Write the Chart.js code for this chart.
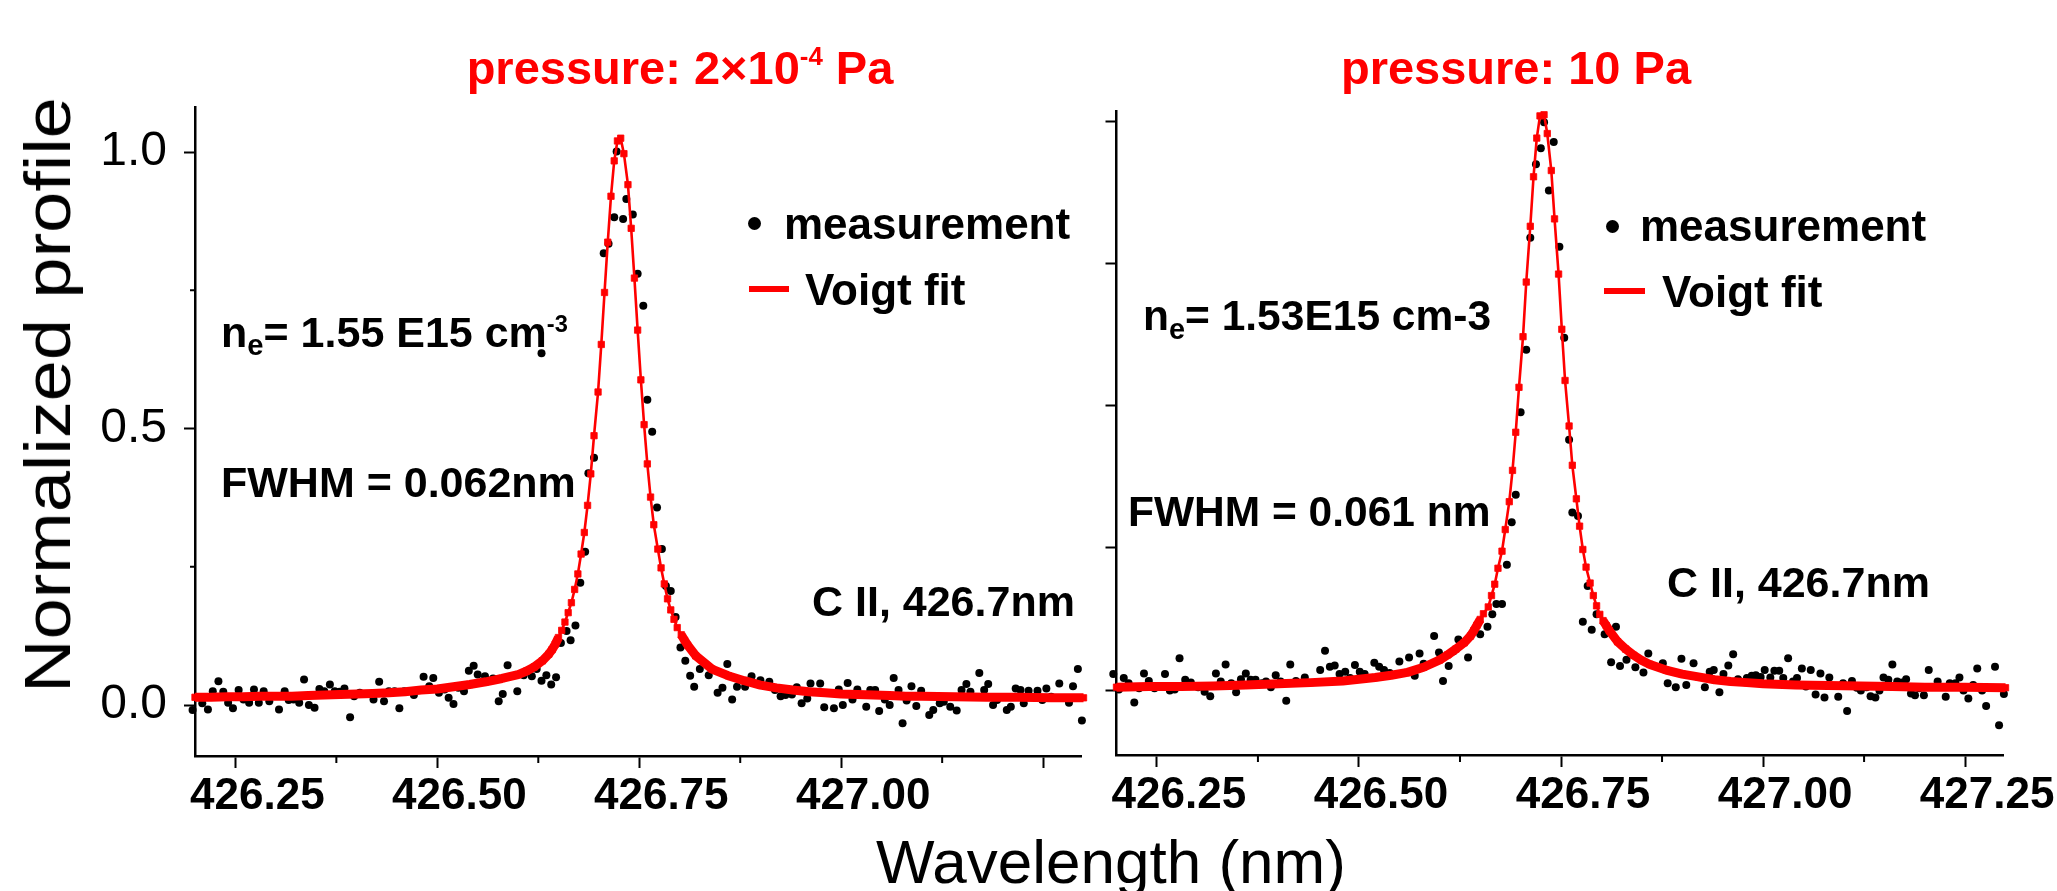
<!DOCTYPE html>
<html>
<head>
<meta charset="utf-8">
<script src="https://cdn.jsdelivr.net/npm/chart.js@4.4.1/dist/chart.umd.min.js"></script>
<style>
html, body { margin: 0; padding: 0; background: #fff; }
#wrap { position: relative; width: 2057px; height: 891px; overflow: hidden; font-family: "Liberation Sans", Arial, sans-serif; }
canvas { position: absolute; left: 0; top: 0; }
.note { position: absolute; white-space: nowrap; line-height: 1; }
.sp { font-size: 0.55em; position: relative; top: -0.62em; }
.sb { font-size: 0.68em; position: relative; top: 0.3em; }
.mark { position: absolute; }
</style>
</head>
<body>
<div id="wrap">
  <canvas id="left" width="2057" height="891"></canvas>
  <canvas id="right" width="2057" height="891"></canvas>
</div>
<script>
// wavelength (nm), normalized intensity
const measLeft = [
  [426.197,-0.009],[426.209,0.003],[426.216,-0.008],[426.222,0.025],[426.229,0.043],[426.235,0.024],
  [426.241,0.004],[426.247,-0.006],[426.254,0.027],[426.260,0.010],[426.267,0.004],[426.273,0.028],
  [426.279,0.004],[426.285,0.025],[426.292,0.007],[426.304,-0.008],[426.311,0.025],[426.316,0.009],
  [426.322,0.010],[426.329,0.004],[426.335,0.046],[426.341,0.000],[426.348,-0.005],[426.354,0.029],
  [426.360,0.025],[426.367,0.037],[426.373,0.025],[426.379,0.024],[426.385,0.030],[426.392,-0.022],
  [426.397,0.016],[426.404,0.022],[426.421,0.010],[426.428,0.042],[426.434,0.007],[426.440,0.025],
  [426.447,0.025],[426.453,-0.006],[426.459,0.025],[426.471,0.018],[426.483,0.051],[426.490,0.034],
  [426.495,0.049],[426.502,0.022],[426.509,0.028],[426.514,0.013],[426.520,0.002],[426.526,0.031],
  [426.533,0.025],[426.539,0.062],[426.545,0.071],[426.550,0.055],[426.559,0.052],[426.569,0.048],
  [426.576,0.007],[426.581,0.020],[426.587,0.072],[426.599,0.025],[426.607,0.054],[426.617,0.052],
  [426.623,0.065],[426.629,0.044],[426.629,0.636],[426.635,0.054],[426.641,0.037],[426.647,0.050],
  [426.653,0.112],[426.660,0.134],[426.665,0.117],[426.671,0.144],[426.677,0.221],[426.683,0.277],
  [426.687,0.419],[426.694,0.447],[426.706,0.817],[426.712,0.834],[426.719,0.882],[426.722,1.001],
  [426.730,0.879],[426.734,0.915],[426.742,0.887],[426.748,0.780],[426.755,0.722],[426.760,0.552],
  [426.766,0.494],[426.772,0.357],[426.778,0.282],[426.783,0.215],[426.789,0.206],[426.795,0.159],
  [426.801,0.104],[426.807,0.080],[426.813,0.053],[426.818,0.033],[426.825,0.065],[426.836,0.054],
  [426.847,0.022],[426.853,0.031],[426.859,0.074],[426.865,0.010],[426.871,0.033],[426.881,0.033],
  [426.889,0.052],[426.900,0.045],[426.911,0.042],[426.918,0.027],[426.925,0.016],[426.931,0.018],
  [426.939,0.019],[426.945,0.032],[426.951,0.003],[426.958,0.012],[426.962,0.039],[426.974,0.039],
  [426.979,-0.004],[426.991,-0.006],[426.997,0.028],[427.002,0.000],[427.008,0.040],[427.014,0.010],
  [427.020,0.028],[427.031,-0.003],[427.036,0.027],[427.042,0.027],[427.047,-0.011],[427.054,0.010],
  [427.060,0.000],[427.065,0.049],[427.071,0.027],[427.076,-0.033],[427.081,0.008],[427.087,0.034],
  [427.093,-0.002],[427.099,0.026],[427.109,-0.018],[427.114,-0.009],[427.122,0.003],[427.127,0.006],
  [427.135,-0.003],[427.143,-0.010],[427.149,0.027],[427.155,0.038],[427.160,0.024],[427.171,0.058],
  [427.177,0.027],[427.182,0.038],[427.188,0.000],[427.193,0.009],[427.205,-0.009],[427.210,-0.003],
  [427.216,0.030],[427.222,0.027],[427.226,0.003],[427.232,0.026],[427.243,0.026],[427.249,0.009],
  [427.254,0.030],[427.260,0.015],[427.270,0.039],[427.282,0.004],[427.287,0.034],[427.293,0.065],
  [427.298,-0.028],[427.303,0.040]
];

const fitLeft = [
  [426.20,0.014],[426.22,0.014],[426.24,0.015],[426.26,0.015],[426.28,0.016],[426.30,0.016],
  [426.32,0.016],[426.34,0.017],[426.36,0.018],[426.38,0.019],[426.40,0.020],[426.42,0.021],
  [426.44,0.022],[426.46,0.024],[426.48,0.027],[426.50,0.029],[426.52,0.033],[426.54,0.037],
  [426.56,0.042],[426.58,0.048],[426.60,0.055],[426.61,0.061],[426.62,0.069],[426.63,0.080],
  [426.638,0.092],[426.642,0.100],[426.646,0.110],[426.650,0.122],[426.654,0.135],[426.658,0.150],
  [426.662,0.167],[426.666,0.185],[426.670,0.209],[426.674,0.237],[426.678,0.273],[426.682,0.312],
  [426.686,0.361],[426.690,0.418],[426.694,0.487],[426.699,0.566],[426.703,0.652],[426.707,0.746],
  [426.711,0.837],[426.715,0.920],[426.719,0.984],[426.723,1.020],[426.727,1.025],[426.731,0.997],
  [426.736,0.941],[426.740,0.862],[426.744,0.772],[426.748,0.678],[426.752,0.588],[426.756,0.507],
  [426.760,0.436],[426.764,0.376],[426.768,0.326],[426.773,0.282],[426.777,0.248],[426.781,0.219],
  [426.785,0.192],[426.789,0.172],[426.793,0.155],[426.797,0.140],[426.802,0.127],[426.806,0.117],
  [426.810,0.108],[426.82,0.089],[426.84,0.065],[426.86,0.053],[426.88,0.044],[426.90,0.036],
  [426.92,0.031],[426.94,0.027],[426.96,0.024],[426.98,0.022],[427.00,0.020],[427.02,0.019],
  [427.04,0.018],[427.06,0.017],[427.08,0.016],[427.10,0.016],[427.14,0.015],[427.18,0.014],
  [427.22,0.014],[427.26,0.013],[427.30,0.013]
];

const measRight = [
  [426.196,0.028],[426.203,0.001],[426.209,0.021],[426.215,0.012],[426.222,-0.022],[426.228,0.003],
  [426.234,0.029],[426.240,0.016],[426.247,0.003],[426.260,0.028],[426.266,-0.001],[426.272,0.001],
  [426.278,0.056],[426.285,0.018],[426.292,0.013],[426.301,0.005],[426.309,-0.003],[426.316,-0.011],
  [426.323,0.029],[426.329,0.015],[426.335,0.045],[426.342,0.012],[426.348,-0.004],[426.354,0.019],
  [426.360,0.029],[426.366,0.018],[426.372,0.018],[426.380,0.012],[426.385,0.015],[426.391,0.005],
  [426.397,0.026],[426.403,0.015],[426.410,-0.019],[426.415,0.045],[426.422,0.016],[426.433,0.022],
  [426.452,0.035],[426.458,0.069],[426.464,0.041],[426.470,0.043],[426.476,0.028],[426.483,0.032],
  [426.489,0.021],[426.495,0.044],[426.501,0.032],[426.507,0.028],[426.519,0.048],[426.525,0.041],
  [426.531,0.035],[426.538,0.030],[426.550,0.050],[426.562,0.057],[426.569,0.025],[426.575,0.064],
  [426.580,0.046],[426.593,0.095],[426.599,0.066],[426.604,0.016],[426.611,0.042],[426.617,0.068],
  [426.623,0.089],[426.635,0.057],[426.650,0.098],[426.659,0.111],[426.665,0.133],[426.670,0.151],
  [426.677,0.151],[426.683,0.220],[426.689,0.295],[426.694,0.343],[426.700,0.488],[426.707,0.598],
  [426.712,0.795],[426.719,0.924],[426.725,0.952],[426.729,0.998],[426.735,0.878],[426.741,0.963],
  [426.748,0.779],[426.754,0.619],[426.760,0.440],[426.764,0.312],[426.771,0.306],[426.777,0.120],
  [426.783,0.183],[426.788,0.106],[426.794,0.133],[426.804,0.098],[426.812,0.049],[426.818,0.111],
  [426.823,0.042],[426.831,0.053],[426.842,0.040],[426.852,0.031],[426.858,0.064],[426.876,0.047],
  [426.882,0.012],[426.892,0.005],[426.899,0.055],[426.905,0.009],[426.914,0.047],[426.928,0.005],
  [426.934,0.032],[426.939,0.035],[426.946,-0.004],[426.951,0.028],[426.957,0.043],[426.963,0.063],
  [426.969,0.019],[426.980,0.021],[426.986,0.025],[426.991,0.026],[426.997,0.023],[427.002,0.035],
  [427.009,0.022],[427.014,0.034],[427.020,0.034],[427.025,0.021],[427.031,0.056],[427.037,0.015],
  [427.042,0.021],[427.048,0.038],[427.053,0.006],[427.059,0.035],[427.065,-0.008],[427.071,0.029],
  [427.076,-0.013],[427.082,0.022],[427.093,-0.012],[427.099,0.012],[427.104,-0.037],[427.110,0.016],
  [427.116,0.004],[427.121,-0.001],[427.128,0.005],[427.133,-0.011],[427.139,-0.013],[427.144,-0.001],
  [427.149,0.022],[427.155,0.018],[427.160,0.045],[427.166,0.015],[427.172,0.013],[427.177,0.019],
  [427.183,-0.006],[427.188,-0.009],[427.193,0.003],[427.199,-0.009],[427.205,0.035],[427.216,0.015],
  [427.226,-0.012],[427.231,0.012],[427.238,0.012],[427.243,0.022],[427.248,-0.001],[427.254,-0.015],
  [427.260,0.009],[427.265,0.038],[427.271,-0.001],[427.276,-0.028],[427.287,0.041],[427.292,-0.062],
  [427.298,-0.007],[427.304,0.001]
];

const fitRight = [
  [426.20,0.005],[426.24,0.006],[426.28,0.006],[426.32,0.007],[426.36,0.009],[426.40,0.011],
  [426.44,0.013],[426.48,0.016],[426.50,0.019],[426.52,0.022],[426.54,0.026],[426.56,0.031],
  [426.58,0.040],[426.60,0.053],[426.61,0.062],[426.62,0.072],[426.63,0.083],[426.638,0.095],
  [426.642,0.104],[426.646,0.114],[426.650,0.124],[426.654,0.134],[426.660,0.146],[426.664,0.166],
  [426.668,0.186],[426.672,0.214],[426.677,0.244],[426.681,0.282],[426.686,0.331],[426.690,0.386],
  [426.694,0.453],[426.698,0.532],[426.703,0.621],[426.707,0.717],[426.712,0.815],[426.716,0.902],
  [426.720,0.970],[426.724,1.009],[426.729,1.011],[426.733,0.978],[426.738,0.913],[426.742,0.828],
  [426.747,0.731],[426.751,0.634],[426.755,0.544],[426.760,0.464],[426.764,0.395],[426.769,0.336],
  [426.773,0.288],[426.777,0.247],[426.781,0.216],[426.786,0.188],[426.790,0.166],[426.794,0.148],
  [426.798,0.133],[426.802,0.122],[426.806,0.113],[426.810,0.104],[426.82,0.085],[426.83,0.072],
  [426.84,0.061],[426.85,0.052],[426.86,0.045],[426.88,0.035],[426.90,0.028],[426.92,0.023],
  [426.94,0.018],[426.96,0.015],[426.98,0.013],[427.00,0.011],[427.04,0.009],[427.08,0.008],
  [427.12,0.007],[427.16,0.006],[427.20,0.005],[427.25,0.005],[427.30,0.004]
];

// axis ticks
const xTicks = [426.25, 426.50, 426.75, 427.00, 427.25];
const xLabelsLeft = ['426.25', '426.50', '426.75', '427.00', ''];
const xLabelsRight = ['426.25', '426.50', '426.75', '427.00', '427.25'];
const xMinor = [426.375, 426.625, 426.875, 427.125];
const yTicksLeft = [0, 0.5, 1.0];
const yLabelsLeft = ['0.0', '0.5', '1.0'];
const yMinorLeft = [0.25, 0.75];
const yTicksRight = [0, 0.25, 0.5, 0.75, 1.0];

// short ticks between the labelled ones
const minorTicks = {
  id: 'minorTicks',
  afterDraw(chart, args, opts) {
    const ctx = chart.ctx;
    const xs = chart.scales.x, ys = chart.scales.y;
    ctx.save();
    ctx.strokeStyle = '#000';
    ctx.lineWidth = 2;
    ctx.beginPath();
    (opts.x || []).forEach(v => {
      const px = xs.getPixelForValue(v);
      ctx.moveTo(px, xs.top);
      ctx.lineTo(px, xs.top + 7);
    });
    (opts.y || []).forEach(v => {
      const py = ys.getPixelForValue(v);
      ctx.moveTo(ys.right, py);
      ctx.lineTo(ys.right - 5, py);
    });
    ctx.stroke();
    ctx.restore();
  }
};

function makePanel(id, meas, fit, cfg) {
  return new Chart(document.getElementById(id), {
    type: 'scatter',
    data: {
      datasets: [{
        label: 'Voigt fit',
        data: fit.map(p => ({ x: p[0], y: p[1] })),
        showLine: true,
        borderColor: '#ff0000',
        backgroundColor: '#ff0000',
        borderWidth: 2.6,
        borderJoinStyle: 'round',
        segment: {
          borderWidth: c => (Math.max(c.p0.parsed.y, c.p1.parsed.y) < 0.13 ? 9 : 2.6)
        },
        pointStyle: 'rect',
        pointRadius: 4.5,
        pointBorderWidth: 0.8,
        pointBorderColor: '#ff0000',
        pointBackgroundColor: '#ff0000',
        clip: false,
        order: 0
      }, {
        label: 'measurement',
        data: meas.map(p => ({ x: p[0], y: p[1] })),
        showLine: false,
        pointRadius: 4,
        pointBorderWidth: 0,
        pointBackgroundColor: '#000',
        clip: false,
        order: 1
      }]
    },
    options: {
      responsive: false,
      animation: false,
      devicePixelRatio: 1,
      layout: { padding: { left: 0, top: cfg.top, right: cfg.right, bottom: 0 } },
      plugins: {
        legend: { display: false },
        tooltip: { enabled: false },
        minorTicks: { x: xMinor, y: cfg.yMinor }
      },
      scales: {
        x: {
          type: 'linear',
          min: 426.2,
          max: 427.2975,
          afterFit: s => { s.height = cfg.xh; s.paddingLeft = 0; s.paddingRight = 0; },
          afterBuildTicks: s => { s.ticks = xTicks.map(v => ({ value: v })); },
          grid: { drawOnChartArea: false, drawTicks: true, tickLength: 12, tickWidth: 2, tickColor: '#000' },
          border: { display: true, color: '#000', width: 2.5 },
          ticks: {
            color: '#000',
            padding: 2,
            labelOffset: 22,
            font: { family: 'Liberation Sans', size: 44, weight: 'bold' },
            callback: (v, i) => cfg.xLabels[i]
          }
        },
        y: {
          type: 'linear',
          min: cfg.ymin,
          max: cfg.ymax,
          afterFit: s => { s.width = cfg.yw; s.paddingTop = 0; s.paddingBottom = 0; },
          afterBuildTicks: s => { s.ticks = cfg.yTicks.map(v => ({ value: v })); },
          grid: { drawOnChartArea: false, drawTicks: true, tickLength: 11, tickWidth: 2, tickColor: '#000' },
          border: { display: true, color: '#000', width: 2.5 },
          ticks: {
            color: '#000',
            padding: 17,
            font: { family: 'Liberation Sans', size: 48 },
            callback: (v, i) => cfg.yLabels[i]
          }
        }
      }
    },
    plugins: [minorTicks]
  });
}

makePanel('left', measLeft, fitLeft, {
  top: 107, right: 2057 - 1081.5, xh: 891 - 756, yw: 195,
  ymin: -0.0922, ymax: 1.0814,
  xLabels: xLabelsLeft, yTicks: yTicksLeft, yLabels: yLabelsLeft, yMinor: yMinorLeft
});

makePanel('right', measRight, fitRight, {
  top: 111, right: 2057 - 2003.5, xh: 891 - 755, yw: 1116.5,
  ymin: -0.1142, ymax: 1.0176,
  xLabels: xLabelsRight, yTicks: yTicksRight, yLabels: yTicksRight.map(() => ''), yMinor: []
});

// text placed by baseline (Liberation Sans: baseline sits 0.8465em below the top of a line-height:1 box)
const notes = [
  { h: 'pressure: 2&times;10<span class="sp" style="top:-0.75em">-4</span> Pa', cx: 680, base: 84, size: 47, color: '#ff0000' },
  { h: 'n<span class="sb">e</span>= 1.55 E15 cm<span class="sp">-3</span>', x: 221, base: 347, size: 43 },
  { h: 'FWHM = 0.062nm', x: 221, base: 497, size: 43 },
  { h: 'C II, 426.7nm', x: 812, base: 616, size: 43 },
  { h: 'measurement', x: 784, base: 239, size: 44 },
  { h: 'Voigt fit', x: 805, base: 305, size: 44 },
  { h: 'pressure: 10 Pa', cx: 1516, base: 84, size: 47, color: '#ff0000' },
  { h: 'n<span class="sb">e</span>= 1.53E15 cm-3', x: 1143, base: 331, size: 42.5 },
  { h: 'FWHM = 0.061 nm', x: 1128, base: 527, size: 42.5 },
  { h: 'C II, 426.7nm', x: 1667, base: 597, size: 43 },
  { h: 'measurement', x: 1640, base: 241, size: 44 },
  { h: 'Voigt fit', x: 1662, base: 307, size: 44 },
  { h: 'Wavelength (nm)', cx: 1111, base: 883, size: 62, normal: true }
];

const wrap = document.getElementById('wrap');
notes.forEach(n => {
  const d = document.createElement('div');
  d.className = 'note';
  d.innerHTML = n.h;
  d.style.fontSize = n.size + 'px';
  d.style.fontWeight = n.normal ? 'normal' : 'bold';
  d.style.color = n.color || '#000';
  d.style.top = (n.base - 0.8465 * n.size) + 'px';
  if (n.cx !== undefined) {
    d.style.left = (n.cx - 500) + 'px';
    d.style.width = '1000px';
    d.style.textAlign = 'center';
  } else {
    d.style.left = n.x + 'px';
  }
  wrap.appendChild(d);
});

// y axis title
const yt = document.createElement('div');
yt.className = 'note';
yt.textContent = 'Normalized profile';
yt.style.fontSize = '64px';
yt.style.left = '48px';
yt.style.top = '395px';
yt.style.transform = 'translate(-50%, -50%) rotate(-90deg) scaleX(1.155)';
wrap.appendChild(yt);

// legend keys
[[754, 223], [1612, 226]].forEach(p => {
  const d = document.createElement('div');
  d.className = 'mark';
  d.style.cssText += `left:${p[0] - 6.5}px;top:${p[1] - 6.5}px;width:13px;height:13px;border-radius:50%;background:#000;`;
  wrap.appendChild(d);
});
[[749, 789, 289], [1604, 1645, 291]].forEach(p => {
  const d = document.createElement('div');
  d.className = 'mark';
  d.style.cssText += `left:${p[0]}px;top:${p[2] - 3}px;width:${p[1] - p[0]}px;height:6px;background:#ff0000;`;
  wrap.appendChild(d);
});
</script>
</body>
</html>
